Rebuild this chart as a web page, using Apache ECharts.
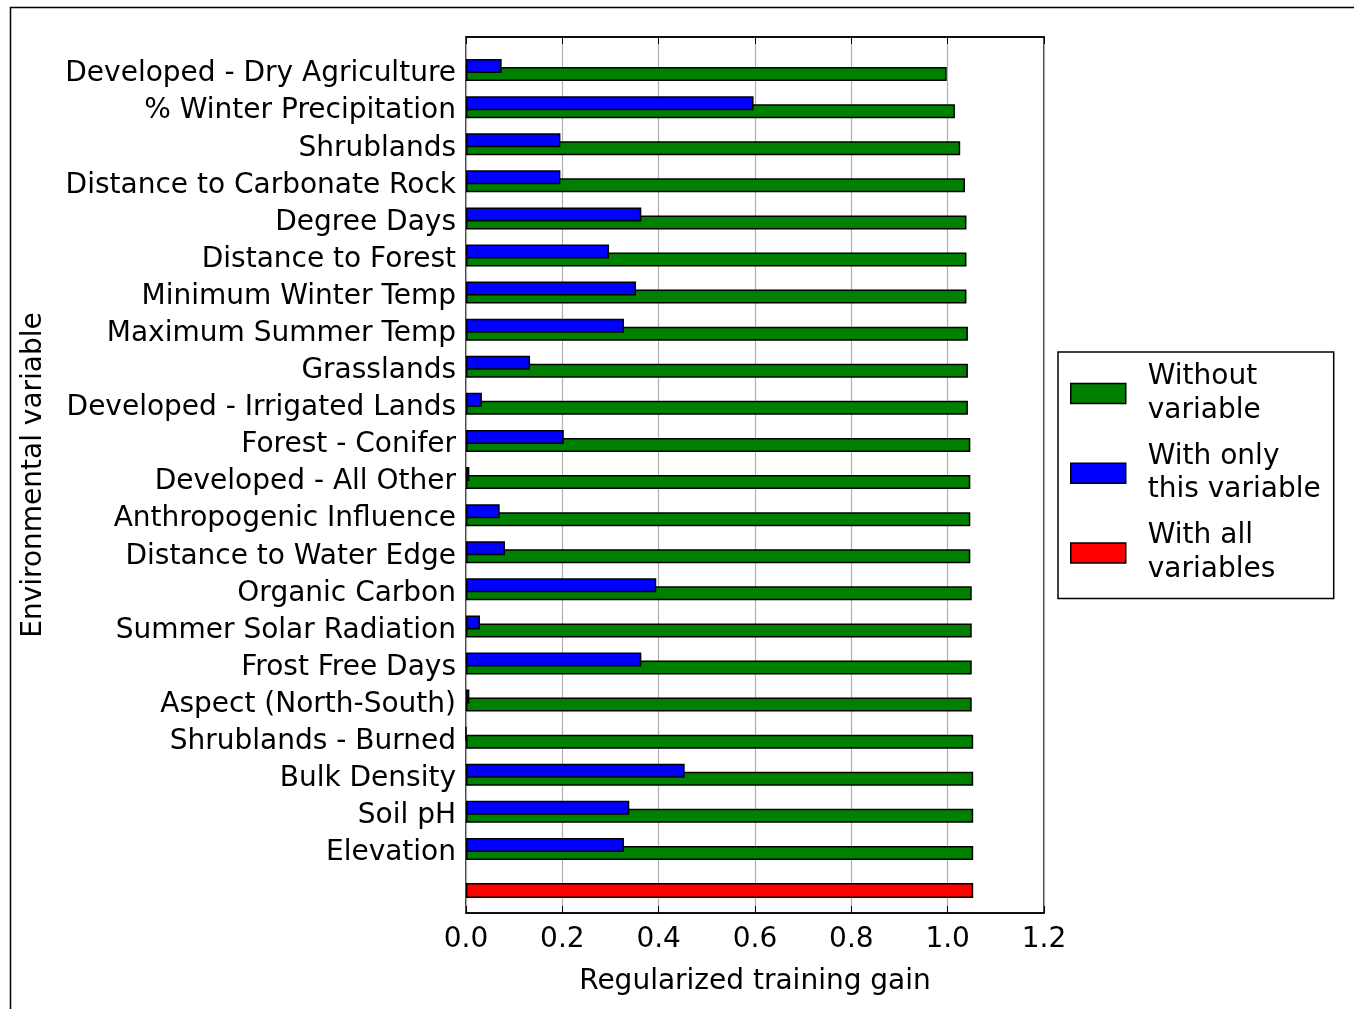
<!DOCTYPE html>
<html>
<head>
<meta charset="utf-8">
<script src="https://cdn.jsdelivr.net/npm/echarts@6/dist/echarts.min.js"></script>
<style>
html,body{margin:0;padding:0;background:#fff;}
#chart{width:1354px;height:1009px;}
</style>
</head>
<body>
<div id="chart"></div>
<script>
const categories = [
  'Developed - Dry Agriculture', '% Winter Precipitation', 'Shrublands',
  'Distance to Carbonate Rock', 'Degree Days', 'Distance to Forest',
  'Minimum Winter Temp', 'Maximum Summer Temp', 'Grasslands',
  'Developed - Irrigated Lands', 'Forest - Conifer', 'Developed - All Other',
  'Anthropogenic Influence', 'Distance to Water Edge', 'Organic Carbon',
  'Summer Solar Radiation', 'Frost Free Days', 'Aspect (North-South)',
  'Shrublands - Burned', 'Bulk Density', 'Soil pH', 'Elevation'
];
const withoutVariable = [
  0.998, 1.015, 1.026, 1.036, 1.039, 1.039, 1.039, 1.042, 1.042, 1.042, 1.047,
  1.047, 1.047, 1.047, 1.050, 1.050, 1.050, 1.050, 1.053, 1.053, 1.053, 1.053
];
const withOnlyVariable = [
  0.074, 0.597, 0.196, 0.196, 0.364, 0.297, 0.353, 0.328, 0.133, 0.033, 0.203,
  0.007, 0.070, 0.081, 0.395, 0.029, 0.364, 0.007, 0.0, 0.454, 0.339, 0.328
];
const withAllVariables = [1.053];
const legendNames = ['Without variable', 'With only this variable', 'With all variables'];
const legendLabels = {
  'Without variable': 'Without\nvariable',
  'With only this variable': 'With only\nthis variable',
  'With all variables': 'With all\nvariables'
};

const FONT = 'DejaVu Sans';
const FS = 28;
const chart = echarts.init(document.getElementById('chart'), null, {renderer: 'canvas'});

const hiddenX = (gi) => ({
  type: 'value', gridIndex: gi, min: 0, max: 1.2, interval: 0.2, show: false
});

chart.setOption({
  backgroundColor: '#fff',
  animation: false,
  textStyle: {fontFamily: FONT},
  graphic: [{
    type: 'rect', left: 8, top: 5, silent: true,
    shape: {width: 1345, height: 1030},
    style: {fill: 'none', stroke: '#000', lineWidth: 1.5}
  }],
  legend: {
    data: legendNames,
    orient: 'vertical',
    left: 1058, top: 352,
    padding: [8, 13, 12, 12],
    itemGap: 12.5,
    itemWidth: 55, itemHeight: 20,
    borderColor: '#000', borderWidth: 1.5, borderRadius: 0,
    backgroundColor: '#fff',
    icon: 'rect',
    itemStyle: {borderColor: '#000', borderWidth: 1.5},
    formatter: (n) => legendLabels[n],
    textStyle: {fontFamily: FONT, fontSize: FS, color: '#000', lineHeight: 33.6, padding: [0, 0, 0, 17]}
  },
  grid: [
    {left: 466, top: 37, width: 578, height: 876, show: true, borderColor: '#000', borderWidth: 1.5, backgroundColor: 'transparent', containLabel: false},
    {left: 466, top: 51.5, width: 578, height: 816, containLabel: false},
    {left: 466, top: 872, width: 578, height: 37, containLabel: false},
    {left: 466, top: 55.5, width: 578, height: 816, containLabel: false}
  ],
  xAxis: [
    {
      type: 'value', gridIndex: 0, position: 'bottom', min: 0, max: 1.2, interval: 0.2,
      name: 'Regularized training gain', nameLocation: 'middle', nameGap: 55,
      nameTextStyle: {fontFamily: FONT, fontSize: FS, color: '#000'},
      axisLine: {show: true, lineStyle: {color: '#000', width: 1.5}},
      axisTick: {show: true, inside: true, length: 7, lineStyle: {color: '#000', width: 1}},
      axisLabel: {show: true, margin: 13, fontFamily: FONT, fontSize: FS, color: '#000',
        formatter: (v) => v.toFixed(1)},
      splitLine: {show: true, lineStyle: {color: '#b0b0b0', width: 1.2, type: 'solid'}}
    },
    {
      type: 'value', gridIndex: 0, position: 'top', min: 0, max: 1.2, interval: 0.2,
      axisLine: {show: true, lineStyle: {color: '#000', width: 1.5}},
      axisTick: {show: true, inside: true, length: 7, lineStyle: {color: '#000', width: 1}},
      axisLabel: {show: false},
      splitLine: {show: false}
    },
    hiddenX(1),
    hiddenX(2),
    hiddenX(3)
  ],
  yAxis: [
    {
      type: 'value', gridIndex: 0, min: 0, max: 1,
      name: 'Environmental variable', nameLocation: 'middle', nameGap: 418,
      nameTextStyle: {fontFamily: FONT, fontSize: FS, color: '#000'},
      axisLine: {show: false}, axisTick: {show: false}, axisLabel: {show: false},
      splitLine: {show: false}
    },
    {
      type: 'category', gridIndex: 1, inverse: true, data: categories,
      axisLine: {show: false}, axisTick: {show: false}, axisLabel: {show: false},
      splitLine: {show: false}
    },
    {
      type: 'category', gridIndex: 2, data: [''], show: false
    },
    {
      type: 'category', gridIndex: 3, inverse: true, data: categories,
      axisLine: {show: false}, axisTick: {show: false},
      axisLabel: {show: true, margin: 10, fontFamily: FONT, fontSize: FS, color: '#000', interval: 0},
      splitLine: {show: false}
    }
  ],
  series: [
    {
      name: 'With only this variable', type: 'bar', xAxisIndex: 2, yAxisIndex: 1,
      data: withOnlyVariable, barWidth: 14, barGap: '-43%', z: 3,
      itemStyle: {color: '#0000ff', borderColor: '#000', borderWidth: 1.5}
    },
    {
      name: 'Without variable', type: 'bar', xAxisIndex: 2, yAxisIndex: 1,
      data: withoutVariable, barWidth: 14, barGap: '-43%', z: 2,
      itemStyle: {color: '#008000', borderColor: '#000', borderWidth: 1.5}
    },
    {
      name: 'With all variables', type: 'bar', xAxisIndex: 3, yAxisIndex: 2,
      data: withAllVariables, barWidth: 15, z: 2,
      itemStyle: {color: '#ff0000', borderColor: '#000', borderWidth: 1.5}
    }
  ]
});
</script>
</body>
</html>
